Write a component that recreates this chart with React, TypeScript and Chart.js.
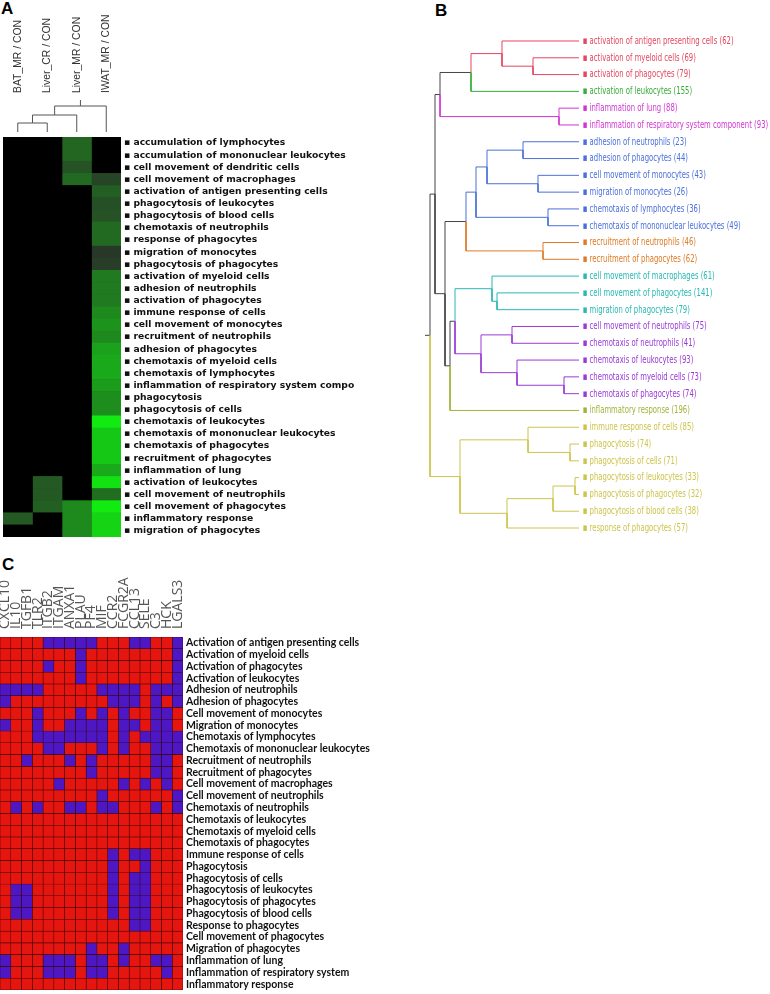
import React, { useEffect, useRef } from "react";
import { Chart, registerables, LinearScale } from "chart.js";

Chart.register(...registerables);

// ---------------- Panel A data ----------------
const aColumns = ["BAT_MR / CON", "Liver_CR / CON", "Liver_MR / CON", "IWAT_MR / CON"];
const aTerms = [
  "accumulation of lymphocytes",
  "accumulation of mononuclear leukocytes",
  "cell movement of dendritic cells",
  "cell movement of macrophages",
  "activation of antigen presenting cells",
  "phagocytosis of leukocytes",
  "phagocytosis of blood cells",
  "chemotaxis of neutrophils",
  "response of phagocytes",
  "migration of monocytes",
  "phagocytosis of phagocytes",
  "activation of myeloid cells",
  "adhesion of neutrophils",
  "activation of phagocytes",
  "immune response of cells",
  "cell movement of monocytes",
  "recruitment of neutrophils",
  "adhesion of phagocytes",
  "chemotaxis of myeloid cells",
  "chemotaxis of lymphocytes",
  "inflammation of respiratory system compo",
  "phagocytosis",
  "phagocytosis of cells",
  "chemotaxis of leukocytes",
  "chemotaxis of mononuclear leukocytes",
  "chemotaxis of phagocytes",
  "recruitment of phagocytes",
  "inflammation of lung",
  "activation of leukocytes",
  "cell movement of neutrophils",
  "cell movement of phagocytes",
  "inflammatory response",
  "migration of phagocytes",
];
const aBAT = [0, 0, 0, 0, 0, 0, 0, 0, 0, 0, 0, 0, 0, 0, 0, 0, 0, 0, 0, 0, 0, 0, 0, 0, 0, 0, 0, 0, 0, 0, 0, 0.25, 0];
const aLiverCR = [0, 0, 0, 0, 0, 0, 0, 0, 0, 0, 0, 0, 0, 0, 0, 0, 0, 0, 0, 0, 0, 0, 0, 0, 0, 0, 0, 0, 0.25, 0.25, 0.28, 0, 0];
const aLiverMR = [0.32, 0.32, 0.22, 0.34, 0, 0, 0, 0, 0, 0, 0, 0, 0, 0, 0, 0, 0, 0, 0, 0, 0, 0, 0, 0, 0, 0, 0, 0, 0, 0, 0.5, 0.5, 0.5];
const aIWAT = [0, 0, 0, 0.15, 0.28, 0.2, 0.22, 0.34, 0.34, 0.08, 0.1, 0.42, 0.42, 0.42, 0.5, 0.55, 0.5, 0.62, 0.66, 0.66, 0.6, 0.52, 0.52, 1.0, 0.82, 0.82, 0.82, 0.66, 0.95, 0.36, 1.0, 0.88, 0.88];
const aMerges = [
  [-1, -2, 0.9],
  [1, -3, 1.7],
  [2, -4, 2.6],
];

// ---------------- Panel B data ----------------
const bTerms = [
  "activation of antigen presenting cells",
  "activation of myeloid cells",
  "activation of phagocytes",
  "activation of leukocytes",
  "inflammation of lung",
  "inflammation of respiratory system component",
  "adhesion of neutrophils",
  "adhesion of phagocytes",
  "cell movement of monocytes",
  "migration of monocytes",
  "chemotaxis of lymphocytes",
  "chemotaxis of mononuclear leukocytes",
  "recruitment of neutrophils",
  "recruitment of phagocytes",
  "cell movement of macrophages",
  "cell movement of phagocytes",
  "migration of phagocytes",
  "cell movement of neutrophils",
  "chemotaxis of neutrophils",
  "chemotaxis of leukocytes",
  "chemotaxis of myeloid cells",
  "chemotaxis of phagocytes",
  "inflammatory response",
  "immune response of cells",
  "phagocytosis",
  "phagocytosis of cells",
  "phagocytosis of leukocytes",
  "phagocytosis of phagocytes",
  "phagocytosis of blood cells",
  "response of phagocytes",
];
const bCounts = [62, 69, 79, 155, 88, 93, 23, 44, 43, 26, 36, 49, 46, 62, 61, 141, 79, 75, 41, 93, 73, 74, 196, 85, 74, 71, 33, 32, 38, 57];
const bClusters = [0, 0, 0, 1, 2, 2, 3, 3, 3, 3, 3, 3, 4, 4, 5, 5, 5, 6, 6, 6, 6, 6, 7, 8, 8, 8, 8, 8, 8, 8];
// hclust-style merges: negative = leaf (1-based), positive = earlier merge (1-based), then height
const bMerges = [
  [-2, -3, 0.46],
  [-1, 1, 0.77],
  [2, -4, 1.08],
  [-5, -6, 0.2],
  [3, 4, 1.39],
  [-7, -8, 0.56],
  [-9, -10, 0.41],
  [6, 7, 0.92],
  [-11, -12, 0.31],
  [8, 9, 1.03],
  [-13, -14, 0.36],
  [10, 11, 1.13],
  [-16, -17, 0.82],
  [-15, 13, 0.87],
  [-18, -19, 0.67],
  [-21, -22, 0.15],
  [-20, 16, 0.62],
  [15, 17, 0.98],
  [14, 18, 1.24],
  [19, -23, 1.29],
  [12, 20, 1.34],
  [5, 21, 1.44],
  [-25, -26, 0.09],
  [-24, 23, 0.51],
  [-27, -28, 0.04],
  [25, -29, 0.26],
  [26, -30, 0.72],
  [24, 27, 1.19],
  [22, 28, 1.49],
];

// ---------------- Panel C data ----------------
const cGenes = ["CXCL10", "IL10", "TGFB1", "TLR2", "ITGB2", "ITGAM", "ANXA1", "PLAU", "PF4", "MIF", "CCR2", "FCGR2A", "CCL13", "SELE", "C3", "HCK", "LGALS3"];
const cTerms = [
  "Activation of antigen presenting cells",
  "Activation of myeloid cells",
  "Activation of phagocytes",
  "Activation of leukocytes",
  "Adhesion of neutrophils",
  "Adhesion of phagocytes",
  "Cell movement of monocytes",
  "Migration of monocytes",
  "Chemotaxis of lymphocytes",
  "Chemotaxis of mononuclear leukocytes",
  "Recruitment of neutrophils",
  "Recruitment of phagocytes",
  "Cell movement of macrophages",
  "Cell movement of neutrophils",
  "Chemotaxis of neutrophils",
  "Chemotaxis of leukocytes",
  "Chemotaxis of myeloid cells",
  "Chemotaxis of phagocytes",
  "Immune response of cells",
  "Phagocytosis",
  "Phagocytosis of cells",
  "Phagocytosis of leukocytes",
  "Phagocytosis of phagocytes",
  "Phagocytosis of blood cells",
  "Response to phagocytes",
  "Cell movement of phagocytes",
  "Migration of phagocytes",
  "Inflammation of lung",
  "Inflammation of respiratory system",
  "Inflammatory response",
];
// 1 = blue cell, 0 = red cell
const cMatrix = [
  [0, 0, 0, 0, 1, 1, 1, 1, 1, 0, 0, 0, 1, 1, 0, 0, 1],
  [0, 0, 0, 0, 0, 0, 0, 1, 0, 0, 0, 0, 0, 0, 0, 0, 1],
  [0, 0, 0, 0, 1, 0, 0, 1, 0, 0, 0, 0, 0, 0, 0, 0, 1],
  [0, 0, 0, 0, 0, 0, 0, 1, 0, 0, 0, 0, 0, 0, 0, 0, 1],
  [1, 1, 1, 1, 0, 0, 0, 0, 0, 1, 1, 1, 1, 0, 1, 1, 1],
  [1, 0, 0, 0, 0, 0, 0, 0, 0, 0, 1, 1, 1, 0, 1, 0, 1],
  [0, 0, 0, 1, 0, 0, 0, 1, 0, 1, 0, 1, 0, 0, 1, 1, 0],
  [1, 0, 0, 1, 0, 0, 1, 1, 1, 1, 0, 1, 1, 0, 1, 1, 0],
  [0, 0, 0, 1, 1, 1, 1, 1, 1, 1, 0, 1, 0, 1, 1, 1, 1],
  [0, 0, 0, 0, 1, 1, 0, 0, 0, 1, 0, 1, 0, 0, 1, 1, 1],
  [0, 0, 1, 0, 0, 0, 1, 0, 1, 0, 0, 0, 0, 0, 1, 1, 0],
  [0, 0, 0, 0, 0, 0, 0, 0, 1, 0, 0, 0, 0, 0, 1, 1, 0],
  [0, 0, 0, 0, 0, 1, 0, 0, 0, 0, 0, 1, 0, 1, 0, 1, 0],
  [0, 0, 0, 0, 0, 0, 0, 0, 0, 1, 0, 0, 0, 0, 0, 0, 1],
  [0, 1, 0, 1, 0, 0, 1, 1, 0, 1, 1, 0, 0, 0, 1, 0, 1],
  [0, 0, 0, 0, 0, 0, 0, 0, 0, 0, 0, 0, 0, 0, 0, 0, 0],
  [0, 0, 0, 0, 0, 0, 0, 0, 0, 0, 0, 0, 0, 0, 0, 0, 0],
  [0, 0, 0, 0, 0, 0, 0, 0, 0, 0, 0, 0, 0, 0, 0, 0, 0],
  [0, 0, 0, 0, 0, 0, 0, 0, 0, 0, 1, 0, 1, 1, 0, 0, 0],
  [0, 0, 0, 0, 0, 0, 0, 0, 0, 0, 1, 0, 0, 1, 0, 0, 0],
  [0, 0, 0, 0, 0, 0, 0, 0, 0, 0, 1, 0, 1, 1, 0, 0, 0],
  [0, 1, 1, 0, 0, 0, 0, 0, 0, 0, 1, 0, 1, 1, 0, 0, 0],
  [0, 1, 1, 0, 0, 0, 0, 0, 0, 0, 1, 0, 1, 1, 0, 0, 0],
  [0, 1, 1, 0, 0, 0, 0, 0, 0, 0, 1, 0, 1, 1, 0, 0, 0],
  [0, 0, 0, 0, 0, 0, 0, 0, 0, 0, 0, 0, 1, 1, 0, 0, 0],
  [0, 0, 0, 0, 0, 0, 0, 0, 0, 0, 0, 0, 0, 0, 0, 0, 0],
  [0, 0, 0, 0, 0, 0, 0, 0, 1, 0, 0, 1, 0, 0, 0, 0, 0],
  [1, 0, 0, 0, 1, 1, 1, 0, 1, 1, 0, 1, 0, 0, 1, 1, 0],
  [1, 0, 0, 0, 1, 1, 1, 0, 1, 1, 0, 0, 0, 0, 0, 1, 0],
  [0, 0, 0, 0, 0, 0, 0, 0, 0, 0, 0, 0, 0, 0, 0, 0, 0],
];

// ---------------- styles ----------------
const SANS = "'Liberation Sans', Arial, sans-serif";
const DEJAVU = "'DejaVu Sans', sans-serif";
const clusterColors = ["#e4475f", "#37ad3a", "#d236d2", "#4a70db", "#de7a26", "#27b9b2", "#9a3bd6", "#a3b23a", "#cdc44c"];
const MIXED = "#444444";
const RED = "#e5150f";
const BLUE = "#4d17c4";
const B_CONDENSE = 0.625;

// Linear scale whose tick labels are drawn horizontally condensed (narrow typeface look)
class CondensedLinearScale extends LinearScale {
  static id = "condensedLinear";
  static defaults = LinearScale.defaults;
  _computeLabelArea() {
    return undefined as any;
  }
  drawLabels(area: any) {
    const ctx = (this as any).ctx as CanvasRenderingContext2D;
    const left = (this as any).left as number;
    ctx.save();
    ctx.translate(left, 0);
    ctx.scale(B_CONDENSE, 1);
    ctx.translate(-left, 0);
    super.drawLabels(area);
    ctx.restore();
  }
}
Chart.register(CondensedLinearScale);

function greenScale(v: number) {
  if (v <= 0) return "#000000";
  const rb = Math.round(42 - 25 * v);
  const g = Math.round(40 + 195 * v);
  return `rgb(${rb},${g},${rb})`;
}

type TNode = { p: number; h: number; leaves: number[] };
function layoutTree(merges: number[][], leafPos: (i: number) => number) {
  const nodes: TNode[] = [];
  const get = (id: number): TNode =>
    id < 0 ? { p: leafPos(-id - 1), h: 0, leaves: [-id - 1] } : nodes[id - 1];
  const edges: { parent: TNode; child: TNode }[] = [];
  for (const [a, b, h] of merges) {
    const A = get(a);
    const B = get(b);
    const n: TNode = { p: (A.p + B.p) / 2, h, leaves: [...A.leaves, ...B.leaves] };
    nodes.push(n);
    edges.push({ parent: n, child: A }, { parent: n, child: B });
  }
  return { root: nodes[nodes.length - 1], edges };
}

const areaBg = {
  id: "areaBg",
  beforeDatasetsDraw(chart: any, _args: any, opts: any) {
    if (!opts || !opts.color) return;
    const { ctx, chartArea: a } = chart;
    ctx.save();
    ctx.fillStyle = opts.color;
    ctx.fillRect(a.left, a.top, a.right - a.left, a.bottom - a.top);
    ctx.restore();
  },
};

const noAxisDecor = {
  grid: { display: false, drawTicks: false },
  border: { display: false },
};

const fixW = (w: number) => (s: any) => {
  s.width = w;
  s.paddingTop = 0;
  s.paddingBottom = 0;
};
const fixH = (h: number) => (s: any) => {
  s.height = h;
  s.paddingLeft = 0;
  s.paddingRight = 0;
};

const baseOpts = {
  animation: false as const,
  responsive: false,
  devicePixelRatio: 1,
  events: [] as any[],
};

export default function App() {
  const aDendroRef = useRef<HTMLCanvasElement>(null);
  const aHeatRef = useRef<HTMLCanvasElement>(null);
  const bRef = useRef<HTMLCanvasElement>(null);
  const cRef = useRef<HTMLCanvasElement>(null);

  useEffect(() => {
    const charts: Chart[] = [];

    // ---- A dendrogram + column labels ----
    const aTree = layoutTree(aMerges, (i) => i + 0.5);
    const aStemTop = 3.2;
    const lineDs = (data: any[], color: string) => ({
      data,
      borderColor: color,
      borderWidth: 1,
      pointRadius: 0,
      showLine: true,
      fill: false,
    });
    const aLines: any[] = aTree.edges.map(({ parent, child }) =>
      lineDs(
        [
          { x: child.p, y: child.h },
          { x: child.p, y: parent.h },
          { x: parent.p, y: parent.h },
        ],
        "#555"
      )
    );
    aLines.push(
      lineDs(
        [
          { x: aTree.root.p, y: aTree.root.h },
          { x: aTree.root.p, y: aStemTop },
        ],
        "#555"
      )
    );
    const aColFont = 10.4;
    charts.push(
      new Chart(aDendroRef.current!, {
        type: "scatter",
        data: { datasets: aLines },
        options: {
          ...baseOpts,
          layout: { padding: { left: 3, right: 9, top: 0, bottom: 5 }, autoPadding: false },
          plugins: { legend: { display: false }, tooltip: { enabled: false } },
          scales: {
            x: { type: "linear", min: 0, max: aColumns.length, display: false },
            y: { type: "linear", min: 0, max: aStemTop, display: false },
            x2: {
              type: "category",
              labels: aColumns,
              position: "top",
              offset: true,
              ...noAxisDecor,
              ticks: {
                minRotation: 90,
                maxRotation: 90,
                padding: 7,
                autoSkip: false,
                labelOffset: aColFont * 1.2,
                color: "#333",
                font: { family: SANS, size: aColFont },
              },
              afterFit: fixH(100),
            },
          },
        } as any,
      })
    );

    // ---- A heatmap ----
    const aCols = [aBAT, aLiverCR, aLiverMR, aIWAT];
    charts.push(
      new Chart(aHeatRef.current!, {
        type: "bar",
        data: {
          labels: aTerms,
          datasets: aCols.map((vals, c) => ({
            label: aColumns[c],
            data: aTerms.map(() => [c, c + 1]),
            backgroundColor: vals.map(greenScale),
            borderWidth: 0,
            borderSkipped: false,
            barPercentage: 1,
            categoryPercentage: 1,
            grouped: false,
          })),
        },
        options: {
          ...baseOpts,
          indexAxis: "y",
          layout: { padding: { left: 3, right: 0, top: 7, bottom: 8 }, autoPadding: false },
          plugins: { legend: { display: false }, tooltip: { enabled: false }, areaBg: { color: "#000" } },
          scales: {
            x: { type: "linear", min: 0, max: aColumns.length, display: false },
            y: {
              type: "category",
              position: "right",
              offset: true,
              ...noAxisDecor,
              ticks: {
                padding: 3,
                autoSkip: false,
                color: "#111",
                font: { family: DEJAVU, size: 9.2, weight: "bold" },
                callback: (_v: any, i: number) => "\u25AA " + aTerms[i],
              },
              afterFit: fixW(279),
            },
          },
        } as any,
        plugins: [areaBg],
      })
    );

    // ---- B dendrogram ----
    const bTree = layoutTree(bMerges, (i) => i);
    const bStemTop = 1.54;
    const colorOf = (n: TNode) => {
      const c = bClusters[n.leaves[0]];
      return n.leaves.every((l) => bClusters[l] === c) ? clusterColors[c] : MIXED;
    };
    const bLines: any[] = bTree.edges.map(({ parent, child }) =>
      lineDs(
        [
          { x: parent.h, y: parent.p },
          { x: parent.h, y: child.p },
          { x: child.h, y: child.p },
        ],
        colorOf(child)
      )
    );
    bLines.push(
      lineDs(
        [
          { x: bTree.root.h, y: bTree.root.p },
          { x: bStemTop, y: bTree.root.p },
        ],
        MIXED
      )
    );
    charts.push(
      new Chart(bRef.current!, {
        type: "scatter",
        data: { datasets: bLines },
        options: {
          ...baseOpts,
          layout: { padding: { left: 25, right: 0, top: 32.6, bottom: 8.6 }, autoPadding: false },
          plugins: { legend: { display: false }, tooltip: { enabled: false } },
          scales: {
            x: { type: "linear", min: 0, max: bStemTop, reverse: true, display: false },
            y: {
              type: "condensedLinear",
              position: "right",
              min: -0.5,
              max: bTerms.length - 0.5,
              reverse: true,
              ...noAxisDecor,
              afterBuildTicks: (axis: any) => {
                axis.ticks = bTerms.map((_t, i) => ({ value: i }));
              },
              ticks: {
                padding: 6,
                autoSkip: false,
                font: { family: DEJAVU, size: 11 },
                color: (ctx: any) => clusterColors[bClusters[ctx.tick ? ctx.tick.value : ctx.index]],
                callback: (v: any) => "\u25AA " + bTerms[v] + " (" + bCounts[v] + ")",
              },
              afterFit: fixW(191),
            },
          },
        } as any,
      })
    );

    // ---- C heatmap ----
    const cGeneFont = 14;
    charts.push(
      new Chart(cRef.current!, {
        type: "bar",
        data: {
          labels: cTerms,
          datasets: cGenes.map((g, c) => ({
            label: g,
            data: cTerms.map(() => [c, c + 1]),
            backgroundColor: cMatrix.map((row) => (row[c] ? BLUE : RED)),
            borderColor: "#3a0505",
            borderWidth: 0.55,
            borderSkipped: false,
            barPercentage: 1,
            categoryPercentage: 1,
            grouped: false,
            xAxisID: "x",
            yAxisID: "y",
          })),
        },
        options: {
          ...baseOpts,
          indexAxis: "y",
          layout: { padding: { left: 0, right: 0, top: 0, bottom: 4 }, autoPadding: false },
          plugins: { legend: { display: false }, tooltip: { enabled: false }, areaBg: { color: "#3a0505" } },
          scales: {
            x: { type: "linear", min: 0, max: cGenes.length, display: false },
            x2: {
              type: "category",
              labels: cGenes,
              position: "top",
              offset: true,
              ...noAxisDecor,
              ticks: {
                minRotation: 90,
                maxRotation: 90,
                padding: 8,
                autoSkip: false,
                labelOffset: cGeneFont * 1.2,
                color: "#555",
                font: { family: "'Open Sans', sans-serif", size: cGeneFont },
              },
              afterFit: fixH(97),
            },
            y: {
              type: "category",
              position: "right",
              offset: true,
              ...noAxisDecor,
              ticks: {
                padding: 3,
                autoSkip: false,
                color: "#111",
                font: { family: "Lato, sans-serif", size: 10.5, weight: "bold" },
              },
              afterFit: fixW(217),
            },
          },
        } as any,
        plugins: [areaBg],
      })
    );

    return () => charts.forEach((c) => c.destroy());
  }, []);

  const title: React.CSSProperties = {
    position: "absolute",
    fontFamily: SANS,
    fontWeight: "bold",
    fontSize: 17,
    lineHeight: "17px",
    color: "#000",
  };
  const abs = (left: number, top: number): React.CSSProperties => ({ position: "absolute", left, top });

  return (
    <div style={{ position: "absolute", left: 0, top: 0, width: 770, height: 994, background: "#fff", overflow: "hidden" }}>
      <div style={{ ...title, left: 1, top: 0 }}>A</div>
      <div style={{ ...title, left: 435, top: 2 }}>B</div>
      <div style={{ ...title, left: 2, top: 556 }}>C</div>
      <canvas ref={aDendroRef} width={130} height={137} style={abs(0, 0)} />
      <canvas ref={aHeatRef} width={400} height={415} style={abs(0, 130)} />
      <canvas ref={bRef} width={370} height={545} style={abs(400, 0)} />
      <canvas ref={cRef} width={400} height={454} style={abs(0, 540)} />
    </div>
  );
}
